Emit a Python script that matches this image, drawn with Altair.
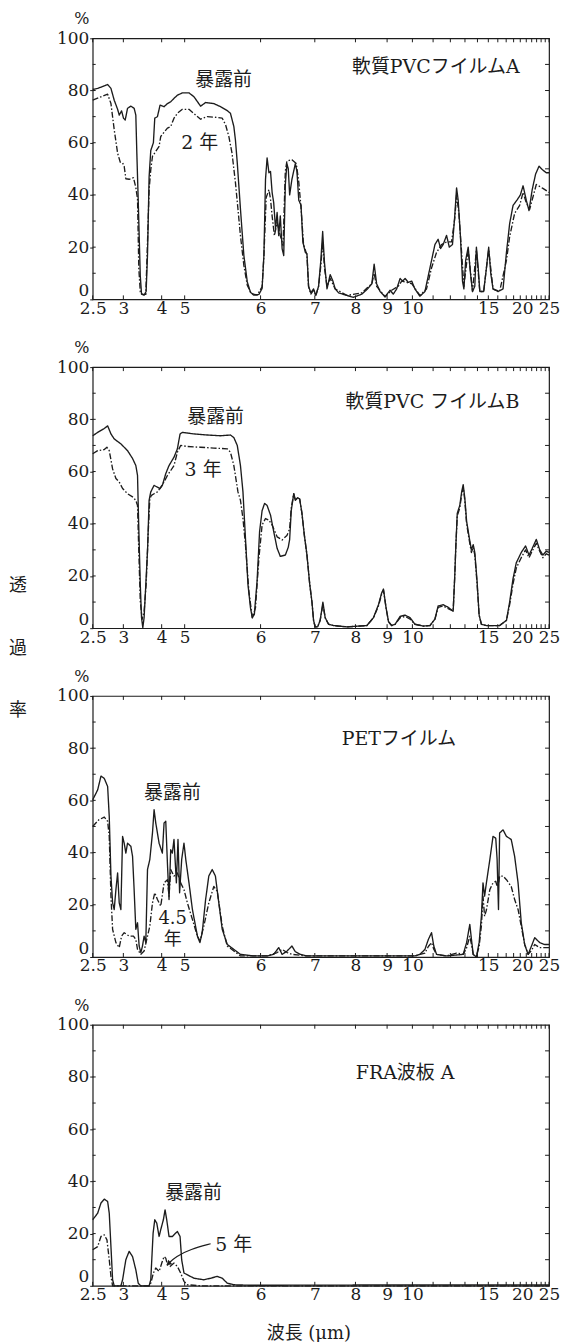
import altair as alt
import pandas as pd

W, H = 458, 262
INK = "#1c1c1c"
FONT_NUM = "DejaVu Serif"
FONT_JP = "DejaVu Serif, Noto Sans CJK JP"

# axis ticks (wavelength, micrometre) and transmittance ticks
TICK_UM = [2.5, 3, 4, 5, 6, 7, 8, 9, 10, 15, 20, 25]
MINOR_UM = [2.5, 3, 4, 5, 6, 7, 8, 9, 10, 11, 12, 13, 14, 15, 16, 17, 18, 19, 20, 21, 22, 23, 24, 25]
Y_TICKS = [0, 20, 40, 60, 80, 100]
Y_MINOR = [10, 20, 30, 40, 50, 60, 70, 80, 90]

# spectra: (wavenumber cm-1, transmittance %)
P1_BEFORE = [(4000, 80.4), (3892, 80.8), (3748, 81.8), (3675, 82.3), (3603, 80.8), (3532, 76.3), (3458, 72.8), (3423, 70.6), (3372, 72.2), (3330, 69.4), (3293, 68.7), (3242, 73.2), (3170, 74), (3099, 73.2), (3062, 70.6), (3040, 56), (3010, 38), (2965, 9), (2938, 2), (2882, 1.6), (2838, 3), (2808, 17), (2773, 47), (2737, 57), (2680, 60), (2650, 69.4), (2592, 70), (2535, 74.4), (2448, 73.8), (2375, 75), (2303, 75.7), (2232, 77), (2158, 78.2), (2050, 79.1), (1981, 79.1), (1959, 77.6), (1930, 74), (1908, 75.4), (1872, 75), (1842, 73.8), (1813, 72.3), (1799, 71.3), (1784, 66.2), (1777, 61), (1769, 52.3), (1755, 34.6), (1740, 16.8), (1725, 6.7), (1711, 2.7), (1696, 1.6), (1674, 1.9), (1660, 4.2), (1652, 16.8), (1645, 46), (1638, 54.2), (1630, 48.5), (1623, 49), (1616, 41), (1609, 37), (1601, 27), (1594, 33.3), (1587, 24.4), (1580, 32), (1572, 19.4), (1565, 16.8), (1558, 44), (1551, 52), (1545, 50), (1539, 40), (1529, 46), (1514, 52), (1507, 49), (1499, 38), (1489, 36), (1481, 22), (1470, 18), (1463, 17.5), (1456, 5), (1446, 2.5), (1434, 4), (1424, 1.5), (1412, 5), (1402, 15), (1394, 26), (1386, 14), (1375, 4), (1361, 9.5), (1349, 7), (1339, 4), (1324, 2.5), (1288, 1.5), (1259, 0.8), (1222, 2), (1197, 4), (1178, 6), (1168, 13.5), (1157, 6), (1142, 3), (1120, 1), (1098, 3.5), (1084, 2), (1069, 4), (1054, 8), (1043, 7), (1032, 8), (1018, 6.5), (1003, 7), (989, 4), (967, 1.2), (945, 3), (923, 12), (901, 21), (887, 23), (876, 19.5), (865, 21), (850, 24.5), (838, 20), (824, 21), (814, 32), (806, 42.7), (799, 38), (789, 24), (780, 7), (774, 4), (766, 15), (755, 20), (745, 10), (736, 3), (726, 5), (719, 20), (711, 12), (704, 3), (687, 3), (675, 12), (665, 20), (656, 10), (646, 4), (624, 3), (602, 4), (587, 18), (573, 29), (558, 36), (541, 38), (526, 40), (514, 43.5), (500, 38), (488, 34), (474, 42), (459, 48), (444, 51), (427, 49.5), (412, 48.5), (400, 48.5)]
P1_AFTER = [(4000, 76.3), (3820, 77.6), (3675, 78.6), (3603, 75), (3532, 65), (3458, 56), (3400, 52.5), (3350, 52.3), (3315, 51), (3279, 46.2), (3207, 46), (3113, 46.6), (3062, 42.8), (3025, 38.4), (2997, 11.8), (2965, 2.9), (2917, 1.9), (2845, 1.9), (2808, 22), (2773, 42), (2737, 49.7), (2700, 54.8), (2628, 56.7), (2556, 58.6), (2520, 62.4), (2448, 64), (2375, 65.6), (2303, 66.2), (2232, 69.4), (2158, 71.3), (2050, 72.8), (1981, 72.8), (1952, 70.6), (1930, 69), (1901, 70), (1857, 69.7), (1835, 69.4), (1820, 66.8), (1806, 62.4), (1792, 56), (1777, 44.7), (1766, 34.6), (1755, 24.4), (1740, 13), (1725, 5.4), (1708, 2.3), (1682, 1.6), (1660, 4.8), (1652, 16.8), (1642, 39), (1630, 42), (1623, 38.4), (1616, 32), (1606, 24.4), (1594, 29.5), (1580, 24.4), (1568, 20.6), (1558, 49), (1551, 53), (1529, 53.5), (1510, 52), (1499, 45), (1489, 35), (1478, 21), (1463, 17), (1456, 5), (1446, 2), (1434, 3.5), (1424, 1.5), (1412, 5), (1402, 13), (1394, 22), (1386, 12), (1375, 5), (1361, 8), (1339, 4), (1288, 1.5), (1222, 2.5), (1197, 4.5), (1178, 6), (1168, 10), (1157, 5), (1120, 1), (1091, 3.5), (1062, 5), (1047, 7), (1025, 6.5), (1003, 6), (967, 1.5), (938, 4), (916, 12), (894, 18), (872, 21), (850, 22), (828, 22), (814, 31), (806, 40), (796, 33), (784, 18), (774, 5), (755, 19), (736, 3), (719, 19), (704, 3), (687, 3), (675, 12), (665, 19), (646, 4), (617, 3), (587, 15), (573, 24), (551, 33), (529, 36), (514, 41), (500, 37), (485, 34.5), (456, 44), (427, 42.5), (400, 41)]

P2_BEFORE = [(4000, 73.7), (3892, 75), (3748, 76.5), (3675, 77.5), (3603, 74.4), (3532, 72.5), (3387, 70.6), (3242, 68), (3133, 65), (3062, 62.3), (3025, 58.5), (3003, 42), (2965, 16.7), (2938, 4), (2910, 0.2), (2882, 4), (2845, 16.7), (2808, 29.4), (2773, 49), (2737, 52.2), (2665, 54.7), (2592, 54), (2535, 53.5), (2485, 54.7), (2411, 59.2), (2340, 62.3), (2232, 65.5), (2158, 68.7), (2100, 74.4), (2050, 75), (1959, 74.4), (1901, 74), (1842, 73.7), (1799, 74), (1784, 73), (1769, 70), (1755, 62.3), (1744, 52.2), (1733, 34.4), (1722, 16.7), (1711, 7.8), (1703, 4), (1694, 5.3), (1682, 18), (1671, 37), (1660, 45), (1649, 47.8), (1638, 47), (1623, 43.3), (1609, 37), (1594, 30.6), (1580, 27.5), (1558, 28), (1545, 31), (1539, 34), (1532, 45), (1521, 51.5), (1514, 49), (1504, 50), (1495, 49.5), (1485, 44), (1475, 36), (1463, 28), (1451, 17), (1441, 10), (1434, 3), (1427, 0.5), (1416, 0.5), (1405, 3), (1393, 10), (1383, 4), (1368, 1.5), (1346, 1), (1288, 0.5), (1200, 1), (1171, 4), (1149, 9), (1135, 13.5), (1127, 15), (1116, 8), (1105, 2.5), (1091, 1), (1076, 1.5), (1054, 4.5), (1032, 5), (1010, 4), (989, 1.5), (952, 0.8), (923, 1), (901, 3.5), (887, 8.5), (865, 9), (843, 8), (821, 6.5), (814, 20), (809, 32), (803, 44), (792, 47), (784, 52), (777, 55), (770, 50), (762, 41), (751, 35), (741, 30), (733, 32), (726, 29), (716, 18), (707, 5), (697, 1.5), (675, 1), (617, 1), (587, 3), (573, 10), (558, 19), (544, 25), (522, 29), (503, 31.5), (488, 28), (474, 30.5), (456, 34), (441, 30), (427, 28), (412, 29.5), (400, 29)]
P2_AFTER = [(4000, 66.8), (3892, 68), (3748, 68.4), (3690, 69.3), (3640, 68), (3567, 61), (3495, 57.3), (3423, 56), (3350, 53.5), (3242, 51.5), (3133, 50.3), (3062, 49), (3025, 47), (2997, 29.4), (2965, 10.3), (2925, 3.4), (2882, 6.5), (2838, 16.7), (2795, 35.7), (2758, 49.6), (2722, 50.9), (2665, 51.5), (2592, 52.2), (2520, 54), (2448, 56), (2375, 58.5), (2303, 60.4), (2232, 62.3), (2158, 67.4), (2087, 70), (1988, 69.6), (1930, 69.3), (1872, 69), (1813, 68.7), (1799, 67.4), (1784, 62.3), (1766, 52.2), (1755, 49), (1744, 42), (1733, 31.9), (1718, 14.1), (1703, 4), (1689, 7.8), (1674, 26.8), (1660, 39.5), (1645, 42), (1630, 41.4), (1616, 39.5), (1594, 35), (1572, 33.8), (1551, 35.5), (1539, 38), (1532, 46), (1521, 51.5), (1514, 49), (1504, 50), (1495, 49.5), (1485, 44), (1475, 36), (1463, 28), (1451, 17), (1441, 10), (1434, 3), (1427, 0.5), (1416, 0.5), (1405, 3), (1393, 9), (1383, 4), (1368, 1.5), (1346, 1), (1288, 0.5), (1200, 1), (1171, 4), (1149, 8.5), (1135, 13), (1127, 14.5), (1116, 8), (1105, 2.5), (1091, 1), (1076, 1.5), (1054, 4), (1032, 4.5), (1010, 3.5), (989, 1.5), (952, 0.8), (923, 1), (901, 3.5), (887, 8), (865, 8.5), (843, 7.5), (821, 6.5), (814, 20), (809, 32), (803, 43), (792, 46), (784, 51), (777, 54), (770, 49), (762, 40), (751, 34), (741, 29), (733, 31), (726, 28), (716, 17), (707, 5), (697, 1.5), (675, 1), (617, 1), (587, 3), (573, 9), (558, 17), (544, 23), (522, 27), (503, 30), (488, 27), (474, 29.5), (456, 32.5), (441, 29.5), (427, 27), (412, 28.5), (400, 28)]

P3_BEFORE = [(4000, 60.2), (3892, 64), (3820, 69.3), (3748, 68.4), (3675, 65.3), (3640, 53.8), (3603, 31), (3567, 20.7), (3532, 18.2), (3495, 25.8), (3458, 32.2), (3423, 20.7), (3387, 18.2), (3350, 46.2), (3315, 43.6), (3279, 39.8), (3242, 43.6), (3170, 42.4), (3133, 38.5), (3099, 25.8), (3062, 10.6), (3025, 13.1), (2990, 4.2), (2953, 1.7), (2917, 4.2), (2882, 8), (2845, 5.5), (2808, 33.5), (2758, 37.3), (2700, 47.5), (2665, 56.4), (2628, 51.3), (2556, 43.6), (2485, 39.8), (2448, 51.3), (2411, 52), (2375, 36), (2340, 22), (2303, 41.1), (2268, 39.8), (2232, 45), (2180, 28.4), (2145, 45), (2110, 24.6), (2065, 37.3), (2015, 43.6), (1995, 37.3), (1981, 28.4), (1966, 18.2), (1944, 8), (1933, 5.5), (1923, 9.3), (1908, 22), (1894, 31), (1879, 33.5), (1865, 31), (1850, 20.7), (1835, 10.6), (1813, 4.8), (1784, 2.9), (1755, 1), (1696, 0.4), (1638, 0.4), (1609, 1), (1587, 3.6), (1572, 1), (1550, 2.3), (1529, 4.2), (1514, 2), (1492, 1), (1463, 0.4), (989, 0.4), (967, 1), (945, 2.9), (930, 6.7), (916, 9.3), (906, 4.2), (894, 1), (850, 0.4), (777, 1), (762, 5.5), (748, 12.5), (741, 7), (733, 1), (719, 0), (707, 5.5), (697, 15.6), (690, 28.4), (683, 23.3), (675, 28.4), (660, 37.3), (646, 46.2), (634, 45.5), (628, 37.3), (622, 18.2), (617, 47.5), (602, 48.7), (587, 46.2), (566, 45), (551, 38.5), (536, 28.4), (522, 13.1), (507, 4.8), (492, 1), (477, 4.2), (463, 7.4), (441, 5.5), (420, 4.8), (400, 4.8)]
P3_AFTER = [(4000, 50), (3870, 52.5), (3748, 53.6), (3675, 52), (3640, 46.2), (3603, 23.3), (3567, 10.6), (3495, 5.5), (3423, 3.6), (3372, 8), (3315, 9.3), (3207, 8), (3113, 8), (3062, 6.7), (3025, 2.9), (2953, 1), (2882, 2.3), (2808, 8), (2758, 11.8), (2700, 20.7), (2650, 24.6), (2592, 22), (2520, 19.5), (2448, 28.4), (2375, 29.6), (2340, 23.3), (2303, 33.5), (2232, 31), (2158, 32.2), (2087, 28.4), (2015, 25.8), (1988, 20.7), (1966, 14.4), (1944, 8), (1933, 6.1), (1916, 11.8), (1894, 20.7), (1872, 27), (1857, 25.2), (1835, 11.8), (1813, 4.2), (1784, 2.3), (1755, 0.4), (1638, 0.4), (1594, 1.7), (1572, 2.9), (1550, 1.7), (1529, 1), (1463, 0.4), (989, 0.4), (945, 1.5), (930, 4), (916, 5.5), (906, 3), (894, 1), (850, 0.4), (806, 1.5), (777, 1), (762, 3.5), (748, 8), (741, 5), (733, 1), (719, 0.2), (707, 4), (697, 12), (690, 23.3), (683, 15.6), (675, 18), (660, 25.8), (646, 28.4), (634, 29), (628, 27), (622, 28), (617, 31), (602, 31), (587, 29.6), (566, 27), (551, 22), (536, 18.2), (522, 11.8), (507, 4.8), (492, 1), (477, 2.5), (463, 4.8), (441, 3.6), (420, 3.6), (400, 3.6)]

P4_BEFORE = [(4000, 25.3), (3892, 27.8), (3820, 31.7), (3748, 33.2), (3675, 32.3), (3640, 27.8), (3603, 15), (3567, 2.3), (3532, 0), (3387, 0), (3350, 2.3), (3279, 10), (3207, 13.2), (3133, 11.2), (3062, 6.1), (3010, 1), (2953, 0), (2773, 0), (2737, 2.3), (2686, 20.2), (2650, 25.3), (2607, 24), (2556, 18.9), (2520, 21.5), (2463, 25.3), (2426, 29.1), (2390, 25.3), (2340, 18.9), (2268, 18.9), (2195, 20.2), (2158, 20.8), (2100, 18.9), (2065, 10), (2015, 4.9), (1988, 4.2), (1959, 2.9), (1916, 2.3), (1886, 2.9), (1857, 3.6), (1835, 2.9), (1813, 1), (1784, 0.4), (1711, 0.2), (1200, 0.3), (800, 0.3), (400, 0.3)]
P4_AFTER = [(4000, 13.8), (3892, 15), (3820, 18.9), (3748, 19.5), (3690, 17.6), (3640, 10), (3603, 3.6), (3567, 0), (2773, 0), (2737, 1), (2680, 4.9), (2628, 6.8), (2556, 5.5), (2498, 8.7), (2448, 11.2), (2411, 10.6), (2375, 8), (2318, 7.4), (2232, 8.7), (2158, 7.4), (2087, 4.9), (2015, 1.7), (1988, 0.4), (1930, 0), (400, 0)]

# annotations: (text, wavenumber, %, font size)
P1_TEXT = [("軟質PVCフイルムA", 897, 89, 19), ("暴露前", 1829, 84, 19), ("2 年", 1934, 60, 19)]
P2_TEXT = [("軟質PVC フイルムB", 912, 86.5, 19), ("暴露前", 1864, 80.7, 19), ("3 年", 1919, 60.4, 19)]
P3_TEXT = [("PETフイルム", 1059, 83.5, 19), ("暴露前", 2266, 62.7, 19), ("4.5", 2260, 14.6, 18), ("年", 2260, 6.6, 18)]
P4_TEXT = [("FRA波板 A", 1032, 81.5, 19), ("暴露前", 1961, 35.5, 19), ("5 年", 1785, 15.8, 19)]
P4_ARROW = [(2340, 8.7), (2195, 11.2), (1974, 14.0), (1886, 16.1)]

XSCALE = alt.Scale(domain=[4000, 2000, 400], range=[0, 92.3, W], nice=False, zero=False)
YSCALE = alt.Scale(domain=[0, 100], nice=False, zero=False)
AXIS_X = alt.Axis(values=[10000 / u for u in TICK_UM],
                  labelExpr="format(10000/datum.value, '.3~g')",
                  title=None, ticks=False, tickSize=0, domain=False, grid=False,
                  labelFont=FONT_NUM, labelFontSize=17, labelPadding=1,
                  labelFlush=False, labelOverlap=False, labelColor=INK,
                  labelOffset={"condition": {"test": "datum.value > 480 && datum.value < 520",
                                             "value": -4}, "value": 0})
AXIS_Y = alt.Axis(values=Y_TICKS, title=None, ticks=True, tickSize=3, tickColor=INK,
                  domain=False, grid=False, labelFont=FONT_NUM, labelFontSize=17,
                  labelPadding=1, labelColor=INK,
                  labelBaseline={"condition": {"test": "datum.value == 0", "value": "bottom"},
                                 "value": "middle"})


def X():
    return alt.X("wn:Q", scale=XSCALE, axis=AXIS_X)


def Y():
    return alt.Y("t:Q", scale=YSCALE, axis=AXIS_Y)


def pix_text(label, x, y, size=18, font=FONT_JP):
    return alt.Chart(pd.DataFrame({"label": [label]})).mark_text(
        font=font, fontSize=size, color=INK, baseline="middle", align="center"
    ).encode(text="label:N", x=alt.value(x), y=alt.value(y))


def panel(before, after, texts, extra=None):
    rows = [{"wn": w, "t": t, "s": "暴露前"} for w, t in before]
    rows += [{"wn": w, "t": t, "s": "暴露後"} for w, t in after]
    df = pd.DataFrame(rows)
    lines = alt.Chart(df).mark_line(strokeWidth=1.35, color=INK, strokeJoin="round").encode(
        x=X(), y=Y(),
        strokeDash=alt.StrokeDash("s:N", scale=alt.Scale(domain=["暴露前", "暴露後"],
                                                         range=[[1, 0], [6, 2, 1.5, 2]]),
                                  legend=None),
    )
    xt = pd.DataFrame({"wn": [10000 / u for u in MINOR_UM]})
    bottom = alt.Chart(xt).mark_rule(color=INK, strokeWidth=1).encode(
        x=X(), y=alt.value(H), y2=alt.value(H - 4))
    top = alt.Chart(xt).mark_rule(color=INK, strokeWidth=1).encode(
        x=X(), y=alt.value(0), y2=alt.value(4))
    yt = pd.DataFrame({"t": Y_MINOR})
    right = alt.Chart(yt).mark_rule(color=INK, strokeWidth=1).encode(
        y=Y(), x=alt.value(W), x2=alt.value(W - 4))
    left = alt.Chart(yt).mark_rule(color=INK, strokeWidth=1).encode(
        y=Y(), x=alt.value(0), x2=alt.value(3))
    tdf = pd.DataFrame(texts, columns=["label", "wn", "t", "fs"])
    ann = alt.Chart(tdf).mark_text(font=FONT_JP, color=INK, baseline="middle").encode(
        x=X(), y=Y(), text="label:N", size=alt.Size("fs:Q", scale=None, legend=None))
    pct = pix_text("%", -11, -19, 16, FONT_NUM)
    layers = [lines, bottom, top, right, left, ann, pct]
    if extra:
        layers += extra
    return alt.layer(*layers).properties(width=W, height=H)


arrow_df = pd.DataFrame(P4_ARROW, columns=["wn", "t"])
arrow_line = alt.Chart(arrow_df).mark_line(color=INK, strokeWidth=1.2, interpolate="basis").encode(
    x=X(), y=Y())
arrow_head = alt.Chart(arrow_df.iloc[[0]]).mark_point(
    shape="triangle", filled=True, size=35, angle=228, color=INK, opacity=1).encode(x=X(), y=Y())

p1 = panel(P1_BEFORE, P1_AFTER, P1_TEXT)
p2 = panel(P2_BEFORE, P2_AFTER, P2_TEXT, extra=[
    pix_text("透", -75, 220), pix_text("過", -75, 283), pix_text("率", -75, 345)])
p3 = panel(P3_BEFORE, P3_AFTER, P3_TEXT)
p4 = panel(P4_BEFORE, P4_AFTER, P4_TEXT, extra=[
    arrow_line, arrow_head, pix_text("波長 (μm)", 217, 310, 18)])

chart = alt.vconcat(p1, p2, p3, p4, spacing=68, bounds="flush").properties(
    padding={"left": 0, "top": 0, "right": 0, "bottom": 0},
    background="white",
).configure_view(stroke=INK, strokeWidth=1.2)

chart.save("out.html", embed_options={"renderer": "svg", "actions": False})
